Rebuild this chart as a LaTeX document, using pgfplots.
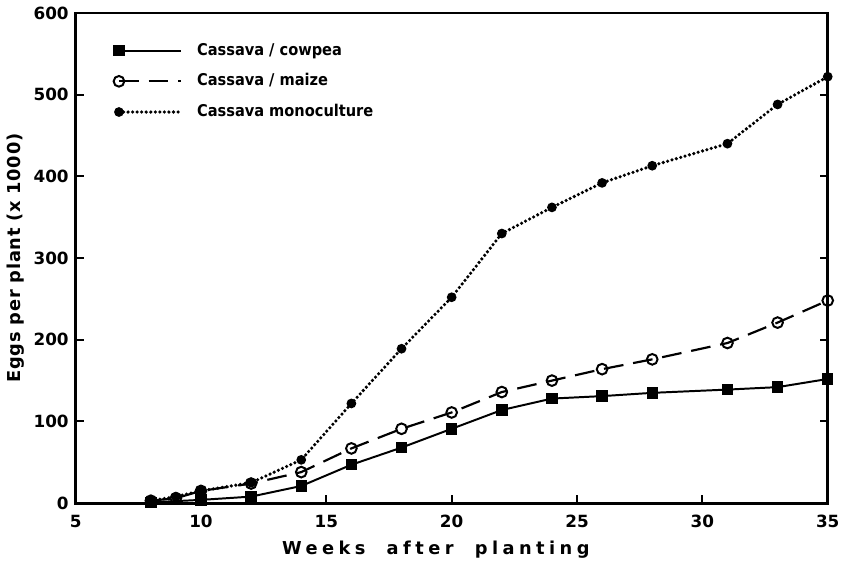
\documentclass[border=0pt]{standalone}
\usepackage{fontspec}
\setmainfont{DejaVu Sans}
\newfontfamily\condfont{DejaVu Sans Condensed}
\usepackage{pgfplots}
\pgfplotsset{compat=1.18}
\begin{document}
\begin{tikzpicture}
\begin{axis}[
  scale only axis,
  width=380.5pt, height=248pt,
  xmin=5, xmax=35, ymin=0, ymax=600,
  xtick={5,10,...,35}, ytick={0,100,...,600},
  xtick pos=bottom, ytick pos=both,
  tick align=inside,
  major tick length=4pt,
  axis line style={line width=1.4pt},
  every tick/.style={line width=1pt, black},
  /pgf/number format/assume math mode=true,
  tick label style={font=\fontsize{8.5}{10}\selectfont\bfseries},
  xticklabel style={yshift=-2.5pt},
  yticklabel style={xshift=0pt},
  xlabel={\addfontfeature{LetterSpace=25}Weeks\ \ after\ \ planting},
  ylabel={\addfontfeature{LetterSpace=4}Eggs per plant (x 1000)},
  label style={font=\fontsize{9}{11}\selectfont\bfseries},
  xlabel style={yshift=0pt, xshift=-8pt},
  ylabel style={yshift=-2pt},
  legend style={at={(0.05,0.947)}, anchor=north west, draw=none, fill=none,
    font=\condfont\fontsize{8.2}{10}\selectfont\bfseries, row sep=3.8pt, inner sep=0pt,
    legend cell align=left},
  legend image code/.code={\draw[mark repeat=2, mark phase=1, #1] plot coordinates {(0pt,0pt) (31.5pt,0pt)};},
]
\addplot[black, line width=1pt, mark=square*, mark size=2.4pt, mark options={solid}]
  coordinates {(8,1) (10,4) (12,8) (14,21) (16,47) (18,68) (20,91) (22,114) (24,128) (26,131) (28,135) (31,139) (33,142) (35,152)};
\addlegendentry{\ \ Cassava / cowpea}
\addplot[black, line width=1.1pt, dash pattern=on 10pt off 5pt, mark=o, mark size=2.7pt, mark options={solid, fill=white, line width=1pt}]
  coordinates {(8,3) (9,6) (10,15) (12,24) (14,38) (16,67) (18,91) (20,111) (22,136) (24,150) (26,164) (28,176) (31,196) (33,221) (35,248)};
\addlegendentry{\ \ Cassava / maize}
\addplot[black, line width=1.8pt, line cap=round, dash pattern=on 0pt off 2.3pt, mark=*, mark size=1.5pt, mark options={solid}]
  coordinates {(8,3) (9,8) (10,15) (12,25) (14,53) (16,122) (18,189) (20,252) (22,330) (24,362) (26,392) (28,413) (31,440) (33,488) (35,522)};
\addlegendentry{\ \ Cassava monoculture}
\end{axis}
\end{tikzpicture}
\end{document}
